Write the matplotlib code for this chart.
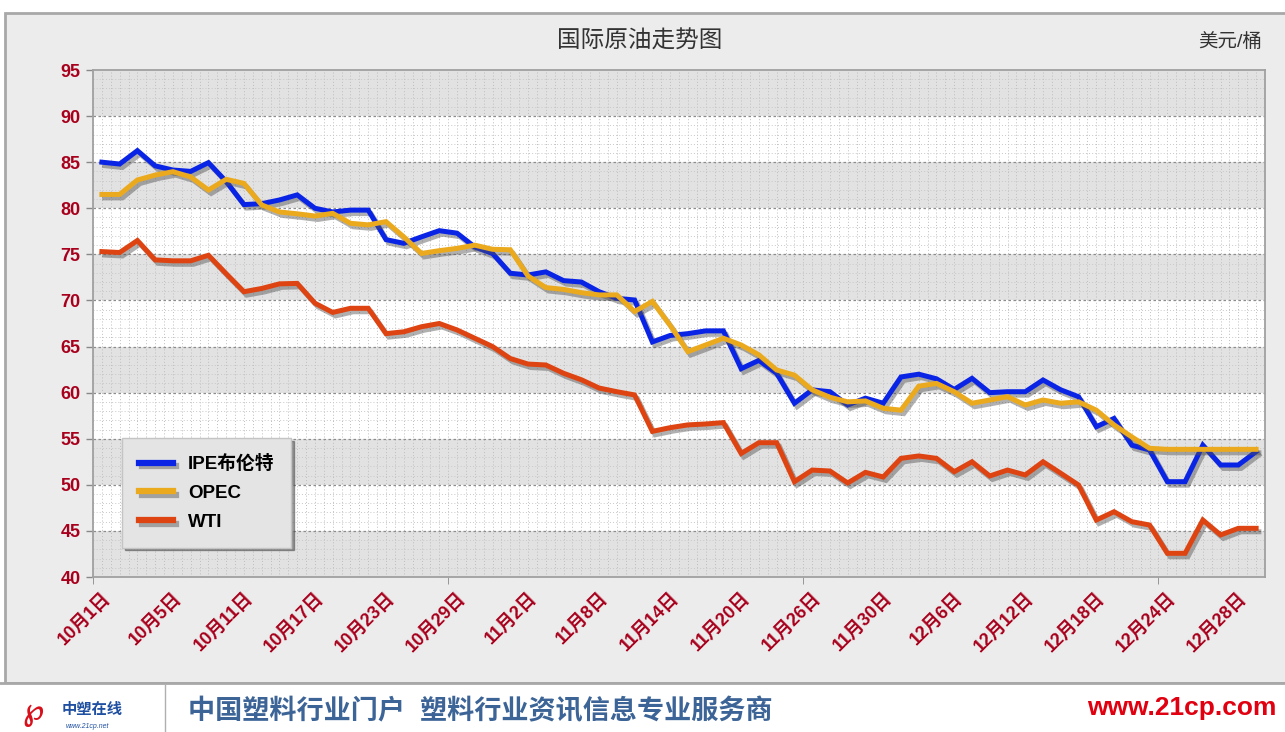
import numpy as np
import matplotlib
matplotlib.use('Agg')
from matplotlib import pyplot as plt
from matplotlib import patheffects as pe
from matplotlib.patches import Rectangle
from matplotlib.lines import Line2D

plt.rcParams['font.family'] = ['Liberation Sans', 'Noto Sans CJK SC', 'DejaVu Sans']

# data, one value per trading day
ipe = [85.0, 84.8, 86.25, 84.6, 84.15, 84.0, 84.95, 82.9, 80.4, 80.5,
       80.9, 81.45, 80.0, 79.6, 79.8, 79.8, 76.6, 76.2, 76.9, 77.57,
       77.3, 75.8, 75.1, 72.95, 72.76, 73.1, 72.15, 72.0, 70.95, 70.23,
       70.05, 65.5, 66.2, 66.4, 66.7, 66.7, 62.6, 63.5, 62.1, 58.85,
       60.3, 60.1, 58.66, 59.4, 58.85, 61.7, 62.0, 61.5, 60.35, 61.55,
       60.0, 60.1, 60.1, 61.37, 60.3, 59.56, 56.3, 57.2, 54.3, 53.78,
       50.34, 50.34, 54.3, 52.15, 52.15, 53.6]
opec = [81.5, 81.5, 83.07, 83.6, 83.97, 83.4, 81.98, 83.14, 82.7, 80.36,
        79.6, 79.4, 79.16, 79.45, 78.37, 78.2, 78.55, 76.9, 75.1, 75.4,
        75.65, 76.0, 75.55, 75.5, 72.65, 71.4, 71.2, 70.85, 70.6, 70.6,
        68.8, 69.9, 67.3, 64.45, 65.17, 65.9, 65.17, 64.1, 62.46, 61.9,
        60.3, 59.5, 59.0, 59.1, 58.3, 58.1, 60.7, 61.0, 60.1, 58.85,
        59.2, 59.56, 58.66, 59.2, 58.85, 59.0, 58.1, 56.5, 55.2, 53.96,
        53.85, 53.85, 53.85, 53.85, 53.85, 53.85]
wti = [75.3, 75.2, 76.5, 74.4, 74.3, 74.3, 74.9, 72.9, 70.95, 71.3,
       71.8, 71.85, 69.7, 68.7, 69.15, 69.15, 66.4, 66.6, 67.15, 67.5,
       66.8, 65.9, 65.0, 63.7, 63.1, 63.0, 62.1, 61.4, 60.5, 60.1,
       59.75, 55.8, 56.2, 56.5, 56.6, 56.75, 53.4, 54.57, 54.57, 50.34,
       51.6, 51.5, 50.2, 51.35, 50.85, 52.87, 53.13, 52.87, 51.42, 52.5,
       50.96, 51.6, 51.07, 52.5, 51.25, 49.98, 46.18, 47.08, 46.0, 45.64,
       42.57, 42.57, 46.18, 44.56, 45.28, 45.28]
date_labels = ['10月1日', '10月5日', '10月11日', '10月17日', '10月23日', '10月29日',
               '11月2日', '11月8日', '11月14日', '11月20日', '11月26日', '11月30日',
               '12月6日', '12月12日', '12月18日', '12月24日', '12月28日']
series_names = ['IPE布伦特', 'OPEC', 'WTI']
series_colors = ['#0A24E6', '#EBAA1E', '#DE4412']

x = np.arange(len(ipe))
red = '#A8001C'

fig = plt.figure(figsize=(12.85, 7.32), dpi=100)
fig.patch.set_facecolor('white')
# chart area background and frame
fig.patches.append(Rectangle((5/1285, 49/732), 1.0, 1 - 13/732 - 49/732,
                             transform=fig.transFigure, facecolor='#ECECEC',
                             edgecolor='#A8A8A8', lw=2, zorder=-10))

ax = fig.add_axes([93/1285, 1 - 577/732, (1265 - 93)/1285, (577 - 70)/732])
ax.set_facecolor('white')
ax.set_xlim(-0.5, len(ipe) - 0.5)
ax.set_ylim(40, 95)

for lo in range(40, 95, 10):
    ax.axhspan(lo, lo + 5, color='#E2E2E2', zorder=0, lw=0)

# dotted texture
for xv in np.arange(-0.5, len(ipe), 0.5):
    ax.axvline(xv, color='#BDBDBD', lw=0.7, ls=(0, (1, 2.2)), zorder=0.5)
for yv in range(41, 95):
    if yv % 5:
        ax.axhline(yv, color='#C8C8C8', lw=0.7, ls=(0, (1, 2.2)), zorder=0.5)
for yv in range(45, 95, 5):
    ax.axhline(yv, color='#8C8C8C', lw=0.9, ls=(0, (2, 2)), zorder=0.6)

shadow = [pe.SimpleLineShadow(offset=(2, -2.5), shadow_color='#505050', alpha=0.45), pe.Normal()]
for vals, name, col in zip([ipe, opec, wti], series_names, series_colors):
    ax.plot(x, vals, color=col, lw=3.6, solid_joinstyle='miter', label=name,
            path_effects=shadow, zorder=3)

ax.set_yticks(range(40, 96, 5))
ax.tick_params(axis='y', colors='#888888', length=5, width=1, pad=4)
for t in ax.get_yticklabels():
    t.set_color(red)
    t.set_fontweight('bold')
    t.set_fontsize(13)

ax.set_xticks(x[::4])
ax.set_xticklabels(date_labels, rotation=45, ha='right', va='top',
                   rotation_mode='anchor', color=red, fontweight='bold', fontsize=13)
ax.tick_params(axis='x', length=0, pad=9)
ax.set_xticks([-0.5, 19.5, 39.5, 59.5], minor=True)
ax.tick_params(axis='x', which='minor', length=5, color='#888888')

for s in ax.spines.values():
    s.set_color('#A0A0A0')
    s.set_linewidth(1.3)

handles = [Line2D([], [], color=c, lw=4.5, path_effects=shadow) for c in series_colors]
leg = ax.legend(handles, series_names, loc='lower left', bbox_to_anchor=(0.025, 0.058),
                borderaxespad=0, frameon=True, fancybox=False, shadow=True,
                prop={'weight': 'bold', 'size': 13.5}, handlelength=1.8,
                labelspacing=0.62, borderpad=0.9, handletextpad=0.8)
leg.get_frame().set_facecolor('#E4E4E4')
leg.get_frame().set_edgecolor('#C4C4C4')
leg.get_frame().set_alpha(1)
leg.set_zorder(5)

fig.text(0.498, 1 - 42/732, '国际原油走势图', ha='center', va='center',
         fontsize=17, color='#333333')
fig.text(1262/1285, 1 - 42/732, '美元/桶', ha='right', va='center',
         fontsize=14, color='#333333')

# footer
fig.patches.append(Rectangle((0, 0), 1, 48/732, transform=fig.transFigure,
                             facecolor='white', edgecolor='none', zorder=-5))
fig.add_artist(Line2D([0, 1], [49/732, 49/732], color='#A8A8A8', lw=2))
fig.add_artist(Line2D([165/1285, 165/1285], [0, 48/732], color='#B0B0B0', lw=1))
fig.text(62/1285, 1 - 710/732, '中塑在线', ha='left', va='center', fontsize=11,
         color='#1F4FA0', fontweight='bold', style='italic')
fig.text(66/1285, 1 - 726/732, 'www.21cp.net', ha='left', va='center', fontsize=5,
         color='#1F4FA0', style='italic')
fig.text(22/1285, 1 - 712/732, '℘', ha='left', va='center', fontsize=22,
         color='#D8101C', fontweight='bold')
fig.text(188/1285, 1 - 712/732, '中国塑料行业门户  塑料行业资讯信息专业服务商', ha='left',
         va='center', fontsize=19.5, color='#3C6496', fontweight='bold')
fig.text(1276/1285, 1 - 708/732, 'www.21cp.com', ha='right', va='center',
         fontsize=19, color='#E00010', fontweight='bold')

fig.savefig('out.png', dpi=100)
